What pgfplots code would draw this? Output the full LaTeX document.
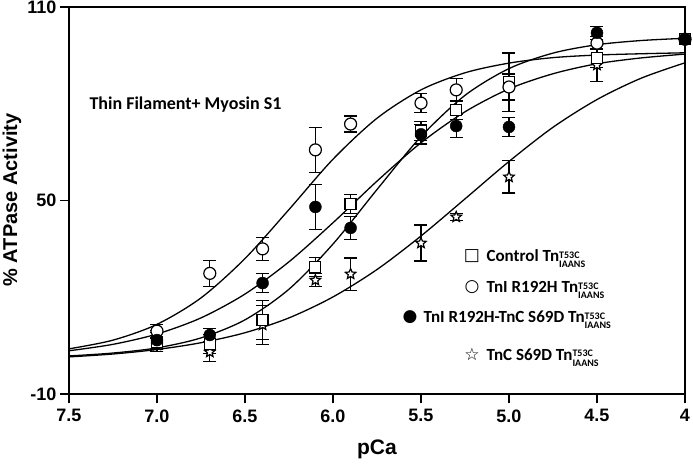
\documentclass[border=0pt]{standalone}
\usepackage{fontspec}
\setmainfont{Carlito}
\newfontfamily\arialf{Liberation Sans}
\newfontfamily\symf{DejaVu Sans}
\usepackage{pgfplots}
\pgfplotsset{compat=1.18}
\pgfdeclareplotmark{ostar}{%
  \pgfpathmoveto{\pgfpointpolar{90}{\pgfplotmarksize}}%
  \pgfpathlineto{\pgfpointpolar{126}{0.45\pgfplotmarksize}}%
  \pgfpathlineto{\pgfpointpolar{162}{\pgfplotmarksize}}%
  \pgfpathlineto{\pgfpointpolar{198}{0.45\pgfplotmarksize}}%
  \pgfpathlineto{\pgfpointpolar{234}{\pgfplotmarksize}}%
  \pgfpathlineto{\pgfpointpolar{270}{0.45\pgfplotmarksize}}%
  \pgfpathlineto{\pgfpointpolar{306}{\pgfplotmarksize}}%
  \pgfpathlineto{\pgfpointpolar{342}{0.45\pgfplotmarksize}}%
  \pgfpathlineto{\pgfpointpolar{18}{\pgfplotmarksize}}%
  \pgfpathlineto{\pgfpointpolar{54}{0.45\pgfplotmarksize}}%
  \pgfpathclose
  \pgfusepathqfillstroke}
\newcommand{\tn}{Tn\raisebox{-6bp}{\fontsize{10bp}{11.5bp}\selectfont\shortstack[l]{T53C\\IAANS}}}
\begin{document}
\begin{tikzpicture}
\useasboundingbox (-69bp,-72bp) rectangle (624bp,394bp);
\begin{axis}[at={(0,0)}, anchor=south west, scale only axis,
  width=616bp, height=387bp,
  x dir=reverse, xmin=4, xmax=7.5, ymin=-10, ymax=110,
  xtick={7.5,7,6.5,6,5.5,5,4.5,4},
  xticklabels={7.5,7.0,6.5,6.0,5.5,5.0,4.5,4},
  ytick={-10,50,110}, yticklabels={-10,50,110},
  xtick pos=bottom, ytick pos=left, tick align=outside,
  major tick length=9bp,
  tick style={black, line width=1.5bp},
  axis line style={line width=2bp},
  ticklabel style={font=\arialf\bfseries\fontsize{18bp}{18bp}\selectfont},
  xticklabel style={yshift=-3bp},
  clip=false,
  every axis plot/.append style={black},
  err/.style={only marks,
    error bars/.cd, y dir=both, y explicit,
    error bar style={line width=1.3bp},
    error mark options={rotate=90, mark size=6.5bp, line width=1.3bp}},
]
% fitted curves
\addplot[line width=1.3bp, smooth] coordinates {(7.5,4.0)(7.25,6.7)(7.0,11.6)(6.75,19.8)(6.5,32.0)(6.25,47.2)(6.0,62.8)(5.75,75.5)(5.5,84.3)(5.25,89.6)(5.0,92.6)(4.75,94.3)(4.5,95.1)(4.25,95.5)(4.0,95.8)};
\addplot[line width=1.3bp, smooth] coordinates {(7.5,1.8)(7.25,2.7)(7.0,4.3)(6.75,7.4)(6.5,13.0)(6.25,22.5)(6.0,36.5)(5.75,53.4)(5.5,69.8)(5.25,82.6)(5.0,90.9)(4.75,95.7)(4.5,98.3)(4.25,99.6)(4.0,100.3)};
\addplot[line width=1.3bp, smooth] coordinates {(7.5,3.4)(7.25,5.4)(7.0,8.6)(6.75,13.6)(6.5,21.0)(6.25,31.0)(6.0,43.1)(5.75,56.0)(5.5,67.9)(5.25,77.5)(5.0,84.6)(4.75,89.3)(4.5,92.4)(4.25,94.2)(4.0,95.4)};
\addplot[line width=1.3bp, smooth] coordinates {(7.5,1.5)(7.25,2.4)(7.0,3.8)(6.75,5.9)(6.5,9.0)(6.25,13.6)(6.0,20.1)(5.75,28.6)(5.5,39.0)(5.25,50.5)(5.0,62.1)(4.75,72.7)(4.5,81.3)(4.25,87.9)(4.0,92.7)};
% star: TnC S69D
\addplot[mark=ostar, mark size=5.5bp, mark options={fill=white, line width=1.2bp}, err] table[x=x, y=y, y error=e] {
x y e
7.0 5.2 2
6.7 3.0 3
6.4 11.4 6
6.1 25.3 2
5.9 27.2 5
5.5 36.8 5.6
5.3 44.9 1
5.0 57.3 5
4.5 92.0 5
4.0 100 0
};
% square: Control
\addplot[mark=square*, mark size=5.5bp, mark options={fill=white, line width=1.2bp}, err] table[x=x, y=y, y error=e] {
x y e
7.0 6.1 3
6.7 5.5 3
6.4 12.9 6
6.1 29.4 3
5.9 48.9 3
5.5 71.5 3
5.3 78.1 3
5.0 86.7 9
4.5 94.2 3
4.0 100 0
};
% open circle: TnI R192H
\addplot[mark=*, mark size=6bp, mark options={fill=white, line width=1.2bp}, err] table[x=x, y=y, y error=e] {
x y e
7.0 9.5 2
6.7 27.4 4
6.4 35.0 3.5
6.1 65.7 7
5.9 73.7 2.5
5.5 80.2 3
5.3 84.3 3.5
5.0 85.2 4
4.5 98.8 2
4.0 100 0
};
% filled circle: TnI R192H-TnC S69D
\addplot[mark=*, mark size=6bp, mark options={fill=black}, err]
  table[x=x, y=y, y error=e] {
x y e
7.0 6.7 3
6.7 8.3 2
6.4 24.4 3
6.1 48.0 7
5.9 41.5 3.5
5.5 70.5 3
5.3 73.1 3.5
5.0 72.8 3
4.5 102.0 2
4.0 100 0
};
\end{axis}
\node[anchor=west, font=\bfseries\fontsize{18bp}{18bp}\selectfont] at (17bp,289bp) {Thin Filament+ Myosin S1};
% legend
\node[font=\symf\fontsize{17bp}{17bp}\selectfont] at (403bp,138bp) {□};
\node[anchor=base west, font=\bfseries\fontsize{17bp}{17bp}\selectfont] at (414bp,132bp) {Control \tn};
\node[font=\symf\fontsize{17bp}{17bp}\selectfont] at (403bp,107bp) {○};
\node[anchor=base west, font=\bfseries\fontsize{17bp}{17bp}\selectfont] at (414bp,101bp) {TnI R192H \tn};
\node[font=\symf\fontsize{17bp}{17bp}\selectfont] at (341bp,77bp) {●};
\node[anchor=base west, font=\bfseries\fontsize{17bp}{17bp}\selectfont] at (351bp,71bp) {TnI R192H-TnC S69D \tn};
\node[font=\symf\fontsize{17bp}{17bp}\selectfont] at (403bp,40bp) {☆};
\node[anchor=base west, font=\bfseries\fontsize{17bp}{17bp}\selectfont] at (414bp,34bp) {TnC S69D \tn};
% axis labels
\node[rotate=90, font=\arialf\bfseries\fontsize{20bp}{20bp}\selectfont] at (-57bp,194bp) {\% ATPase Activity};
\node[font=\arialf\bfseries\fontsize{21bp}{21bp}\selectfont] at (308bp,-55bp) {pCa};
\end{tikzpicture}
\end{document}
